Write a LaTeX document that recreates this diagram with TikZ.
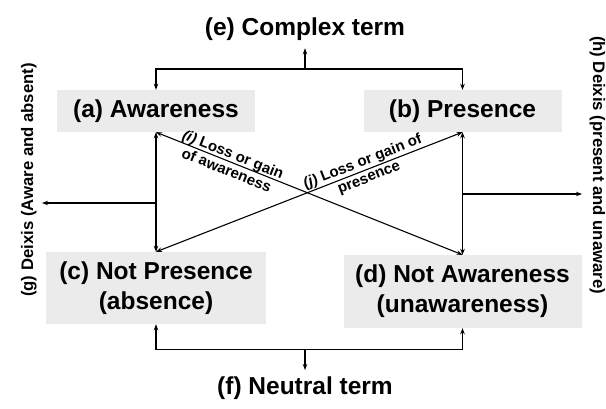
\documentclass[tikz,border=0pt]{standalone}
\usepackage{fontspec}
\setmainfont{Liberation Sans}
\usetikzlibrary{arrows.meta,calc}
\definecolor{boxgray}{RGB}{235,235,235}
\begin{document}
\begin{tikzpicture}[x=1pt,y=-1pt,
  tip/.style={},
  arr/.style={-{Stealth[length=6pt,width=4.5pt]},line width=1.1pt},
  darr/.style={{Stealth[length=6pt,width=4.5pt]}-{Stealth[length=6pt,width=4.5pt]},line width=1.1pt},
  term/.style={fill=boxgray,font=\fontsize{24.5}{30}\selectfont\bfseries,align=center,inner sep=0pt},
  head/.style={font=\fontsize{24.5}{30}\selectfont\bfseries,anchor=base},
  lbl/.style={font=\fontsize{15}{17}\selectfont\bfseries,align=center,inner sep=0pt},
  side/.style={font=\fontsize{16.7}{20}\selectfont\bfseries,inner sep=0pt,anchor=base}]
\useasboundingbox (0,0) rectangle (606,408);

% terms
\node[term,minimum width=198pt,minimum height=42pt] (a) at (156,111) {(a) Awareness};
\node[term,minimum width=198pt,minimum height=42pt] (b) at (462.5,111) {(b) Presence};
\node[term,minimum width=220pt,minimum height=72pt] (c) at (156,288) {(c) Not Presence\\(absence)};
\node[term,minimum width=238pt,minimum height=73pt] (d) at (462.5,291.5) {(d) Not Awareness\\(unawareness)};

% headings
\node[head,inner sep=8pt] (e) at (305,35) {(e) Complex term};
\node[head,inner sep=6pt] (f) at (305,394) {(f) Neutral term};

% side texts
\node[side,rotate=90] (g) at (33,180) {(g) Deixis (Aware and absent)};
\node[side,rotate=-90] (h) at (593,165) {(h) Deixis (present and unaware)};

% top bracket
\coordinate (top) at (305,69);
\draw[arr] (top) -- (e.south);
\draw[arr] (top) -| (a.north);
\draw[arr] (top) -| (b.north);

% bottom bracket
\coordinate (bot) at (305,349.5);
\draw[arr] (bot) -- (f.north);
\draw[arr] (bot) -| (c.south);
\draw[arr] (bot) -| (d.south);

% verticals
\draw[darr] (a.south) -- (c.north);
\draw[darr] (b.south) -- (d.north);

% diagonals
\draw[darr] (a.south) -- (d.north);
\draw[darr] (c.north) -- (b.south);

% side arrows
\coordinate (gtip) at (42,203);
\coordinate (htip) at (582,194);
\draw[arr] (a.south |- gtip) -- (gtip);
\draw[arr] (b.south |- htip) -- (htip);

% diagonal labels
\node[lbl,rotate=-21.9] (i) at (230,162) {\textit{(i)} Loss or gain\\of awareness};
\node[lbl,rotate=21.4] (j) at (366,170) {\textit{(j)} Loss or gain of\\presence};
\end{tikzpicture}
\end{document}
